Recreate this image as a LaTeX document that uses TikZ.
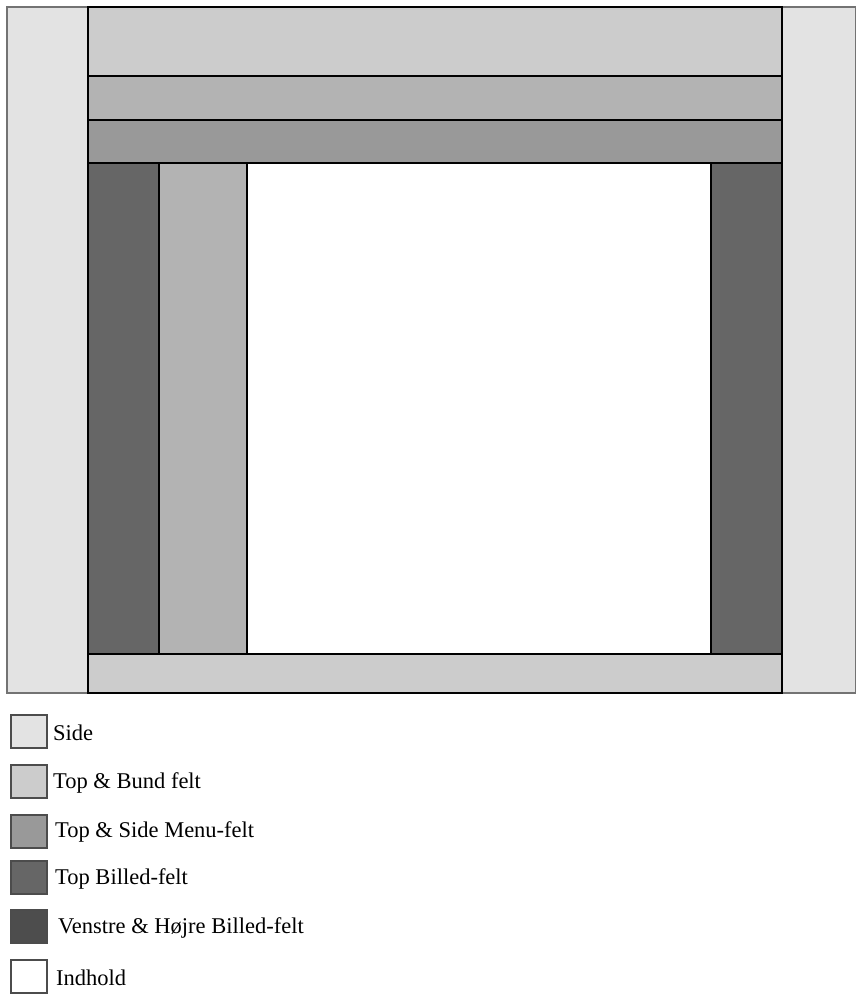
\documentclass[tikz,border=0pt]{standalone}
\usepackage{fontspec}
\setmainfont{Liberation Serif}
\definecolor{cside}{HTML}{E3E3E3}
\definecolor{ctop}{HTML}{CCCCCC}
\definecolor{cmenu}{HTML}{B3B3B3}
\definecolor{cmenub}{HTML}{999999}
\definecolor{cbill}{HTML}{666666}
\definecolor{cvh}{HTML}{4D4D4D}
\tikzset{
  panel/.style={draw=black, line width=1.1pt},
  legbox/.style={draw=black!70, line width=1.1pt},
  legtext/.style={anchor=west, inner sep=0pt, font=\fontsize{22.5}{27}\selectfont}
}
\begin{document}
\begin{tikzpicture}[x=1pt,y=-1pt]
\useasboundingbox (0,0) rectangle (856,996);
% side
\draw[panel, draw=black!55, fill=cside] (7,7) rectangle (856,693);
% top & bottom felt
\draw[panel, fill=ctop] (88,7) rectangle (782,76);
\draw[panel, fill=cmenu] (88,76) rectangle (782,120);
\draw[panel, fill=cmenub] (88,120) rectangle (782,163);
\draw[panel, fill=cbill] (88,163) rectangle (159,654);
\draw[panel, fill=cmenu] (159,163) rectangle (247,654);
\draw[panel, fill=white] (247,163) rectangle (711,654);
\draw[panel, fill=cbill] (711,163) rectangle (782,654);
\draw[panel, fill=ctop] (88,654) rectangle (782,693);
% legend
\draw[legbox, fill=cside] (11,715) rectangle (47,748);
\node[legtext] (l1) at (53,733) {Side};
\draw[legbox, fill=ctop] (11,765) rectangle (47,798);
\node[legtext] (l2) at (53,783) {Top \& Bund felt};
\draw[legbox, fill=cmenub] (11,815) rectangle (47,848);
\node[legtext] (l3) at (55,832) {Top \& Side Menu-felt};
\draw[legbox, fill=cbill] (11,861) rectangle (47,894);
\node[legtext] (l4) at (55,879) {Top Billed-felt};
\draw[legbox, fill=cvh] (11,910) rectangle (47,943);
\node[legtext] (l5) at (58,928) {Venstre \& Højre Billed-felt};
\draw[legbox, fill=white] (11,960) rectangle (47,993);
\node[legtext] (l6) at (56,978) {Indhold};
\end{tikzpicture}
\end{document}
